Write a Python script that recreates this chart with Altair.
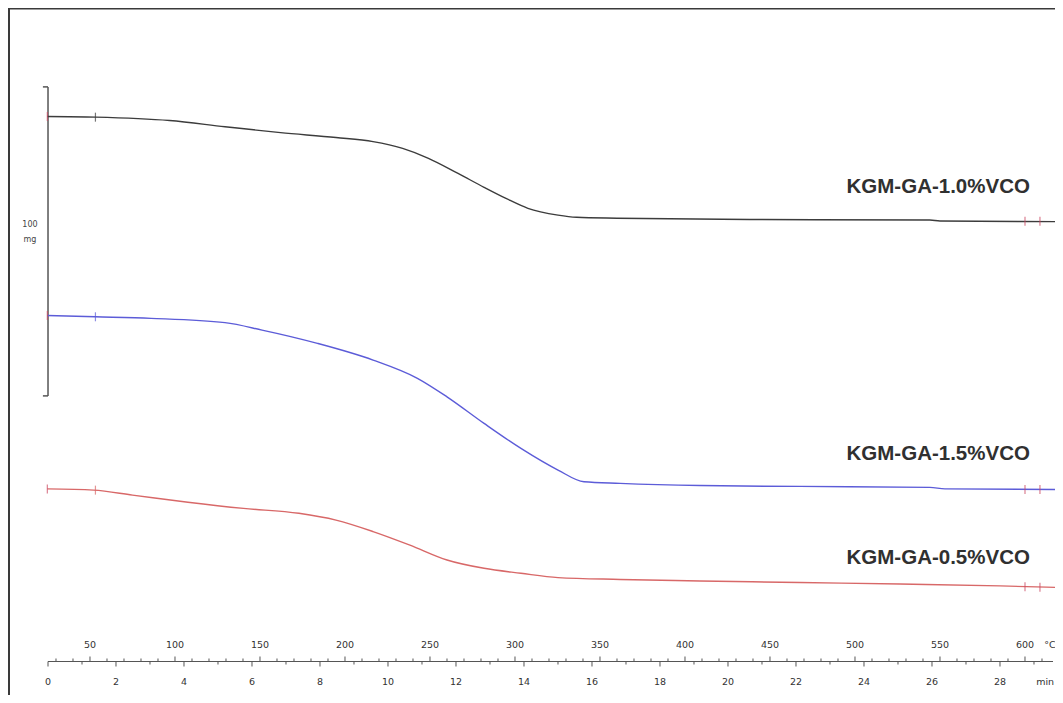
import altair as alt
import pandas as pd

# ---------------- data ----------------
# Temperature (°C) / signal (mg, arbitrary offset per curve)
black_T = [24.9, 53.2, 96.8, 129.4, 162.1, 194.7, 216.5, 233.9, 249.1, 266.5, 281.8,
           294.7, 307.6, 325.3, 336.2, 360.0, 438.2, 544.0, 550.0, 620.6]
black_mg = [187.2, 187.0, 185.9, 183.9, 182.0, 180.4, 179.1, 176.9, 173.7, 168.8, 164.3,
            160.7, 157.5, 155.3, 154.6, 154.3, 153.9, 153.7, 153.4, 153.2]

blue_T = [24.9, 53.2, 85.9, 129.4, 151.2, 183.8, 216.5, 242.6, 260.0, 281.8, 303.5,
          325.3, 340.6, 361.8, 408.8, 467.6, 544.1, 552.9, 620.6]
blue_mg = [122.8, 122.4, 121.9, 120.5, 118.1, 113.8, 108.4, 102.5, 96.5, 87.9, 79.8,
           72.8, 69.0, 68.5, 67.8, 67.5, 67.2, 66.7, 66.5]

red_T = [24.9, 52.1, 75.0, 107.6, 140.3, 172.9, 194.7, 216.5, 238.2, 260.0, 281.8,
         303.5, 325.3, 361.8, 408.8, 467.6, 526.5, 585.3, 620.6]
red_mg = [66.7, 66.3, 64.7, 62.4, 60.4, 58.8, 56.6, 52.9, 48.5, 43.7, 41.0,
          39.4, 38.0, 37.4, 36.9, 36.4, 35.9, 35.3, 34.8]

series_names = ["KGM-GA-1.0%VCO", "KGM-GA-1.5%VCO", "KGM-GA-0.5%VCO"]
series_colors = ["#3c3c3c", "#5c5cd8", "#d86868"]

# Start / end markers on each curve
marker_T = [24.9, 53.2, 600.0, 608.8]
marker_mg = {"KGM-GA-1.0%VCO": [187.2, 187.0, 153.3, 153.3],
             "KGM-GA-1.5%VCO": [122.8, 122.4, 66.5, 66.5],
             "KGM-GA-0.5%VCO": [66.7, 66.3, 35.0, 34.9]}

# Series labels (right aligned)
label_T = [602.9, 602.9, 602.9]
label_mg = [164.4, 78.0, 44.3]

# Scale bar: 100 mg
bar_T = 25.3
bar_lo, bar_hi = 96.8, 196.8
bar_text = ["100", "mg"]
bar_text_mg = [152.1, 147.2]

# Bottom axis labels
temp_labels = [50, 100, 150, 200, 250, 300, 350, 400, 450, 500, 550, 600]
time_labels = [0, 2, 4, 6, 8, 10, 12, 14, 16, 18, 20, 22, 24, 26, 28]
temp_minor = list(range(30, 611, 10))
time_minor = list(range(0, 30, 1))

# ---------------- tables ----------------
curves = pd.concat([
    pd.DataFrame({"T": black_T, "mg": black_mg, "s": series_names[0], "o": range(len(black_T))}),
    pd.DataFrame({"T": blue_T, "mg": blue_mg, "s": series_names[1], "o": range(len(blue_T))}),
    pd.DataFrame({"T": red_T, "mg": red_mg, "s": series_names[2], "o": range(len(red_T))}),
])

mk_rows = []
for s, c in zip(series_names, series_colors):
    for i, (T, m) in enumerate(zip(marker_T, marker_mg[s])):
        col = c if i == 1 else "#cc4a64"
        mk_rows.append({"T": T, "mg": m, "c": col})
markers = pd.DataFrame(mk_rows)

labels = pd.DataFrame({"T": label_T, "mg": label_mg, "txt": series_names})

W, H = 1047, 687
T_dom = [1.765, 617.65]
t_dom = [-1.1765, 29.618]
Y_dom = [0, 222.33]
AXIS_Y = 653.5

xT = lambda f="T": alt.X(f"{f}:Q", scale=alt.Scale(domain=T_dom, nice=False, zero=False), axis=None)
xt = lambda f="t": alt.X(f"{f}:Q", scale=alt.Scale(domain=t_dom, nice=False, zero=False), axis=None)
yM = lambda f="mg": alt.Y(f"{f}:Q", scale=alt.Scale(domain=Y_dom, nice=False, zero=False), axis=None)

line = alt.Chart(curves).mark_line(strokeWidth=1.4, clip=True, interpolate="monotone").encode(
    x=xT(), y=yM(), order="o:Q",
    color=alt.Color("s:N", scale=alt.Scale(domain=series_names, range=series_colors), legend=None),
)

ticks = alt.Chart(markers).mark_tick(orient="vertical", size=9, thickness=1.2).encode(
    x=xT(), y=yM(), color=alt.Color("c:N", scale=None)
)

lab = alt.Chart(labels).mark_text(align="right", baseline="middle", font="Liberation Sans",
                                  fontWeight="bold", fontSize=20.5, color="#303030").encode(
    x=xT(), y=yM(), text="txt:N"
)

bar_df = pd.DataFrame({"T": [bar_T], "lo": [bar_lo], "hi": [bar_hi]})
bar = alt.Chart(bar_df).mark_rule(color="#555555", strokeWidth=1.5).encode(
    x=xT(), y=yM("lo"), y2="hi:Q"
)
caps_df = pd.DataFrame({"T": [bar_T, bar_T], "T0": [bar_T - 3, bar_T - 3], "mg": [bar_lo, bar_hi]})
caps = alt.Chart(caps_df).mark_rule(color="#555555", strokeWidth=1.5).encode(
    x=xT(), x2="T0:Q", y=yM()
)
bar_lab = alt.Chart(pd.DataFrame({"T": [14.7, 14.7], "mg": bar_text_mg, "txt": bar_text})).mark_text(
    font="DejaVu Sans", fontSize=8, color="#444444").encode(x=xT(), y=yM(), text="txt:N")

# bottom axis: temperature part
temp_tick_df = pd.DataFrame({"T": temp_minor, "big": [v % 50 == 0 for v in temp_minor]})
temp_ticks_small = alt.Chart(temp_tick_df).transform_filter("!datum.big").mark_rule(
    color="#555555", strokeWidth=1).encode(x=xT(), y=alt.value(AXIS_Y - 3), y2=alt.value(AXIS_Y))
temp_ticks_big = alt.Chart(temp_tick_df).transform_filter("datum.big").mark_rule(
    color="#555555", strokeWidth=1).encode(x=xT(), y=alt.value(AXIS_Y - 5), y2=alt.value(AXIS_Y))
temp_lab = alt.Chart(pd.DataFrame({"T": temp_labels})).mark_text(
    font="DejaVu Sans", fontSize=9.5, color="#333333", baseline="middle").encode(
    x=xT(), y=alt.value(AXIS_Y - 17), text="T:Q")
degc = alt.Chart(pd.DataFrame({"T": [614.7], "txt": ["°C"]})).mark_text(
    font="DejaVu Sans", fontSize=9.5, color="#333333", baseline="middle").encode(
    x=xT(), y=alt.value(AXIS_Y - 17), text="txt:N")

frame_left = alt.Chart(pd.DataFrame({"T": [T_dom[0]]})).mark_rule(color="#3a3a3a", strokeWidth=2).encode(
    x=alt.value(1), y=alt.value(0), y2=alt.value(H))
frame_top = alt.Chart(pd.DataFrame({"T": [T_dom[0]]})).mark_rule(color="#3a3a3a", strokeWidth=2).encode(
    x=alt.value(0), x2=alt.value(W), y=alt.value(0.5))

temp_layer = alt.layer(frame_left, frame_top, bar, caps, bar_lab, line, ticks, lab,
                       temp_ticks_small, temp_ticks_big, temp_lab, degc)

# bottom axis: time part
time_tick_df = pd.DataFrame({"t": time_minor, "big": [v % 2 == 0 for v in time_minor]})
axis_line = alt.Chart(pd.DataFrame({"t": [0.0]})).mark_rule(color="#555555", strokeWidth=1.2).encode(
    x=xt(), x2=alt.value(W - 2), y=alt.value(AXIS_Y))
time_ticks_small = alt.Chart(time_tick_df).transform_filter("!datum.big").mark_rule(
    color="#555555", strokeWidth=1).encode(x=xt(), y=alt.value(AXIS_Y), y2=alt.value(AXIS_Y + 3))
time_ticks_big = alt.Chart(time_tick_df).transform_filter("datum.big").mark_rule(
    color="#555555", strokeWidth=1).encode(x=xt(), y=alt.value(AXIS_Y), y2=alt.value(AXIS_Y + 5))
time_lab = alt.Chart(pd.DataFrame({"t": time_labels})).mark_text(
    font="DejaVu Sans", fontSize=9.5, color="#333333", baseline="middle").encode(
    x=xt(), y=alt.value(AXIS_Y + 20), text="t:Q")
minlab = alt.Chart(pd.DataFrame({"t": [29.59], "txt": ["min"]})).mark_text(
    font="DejaVu Sans", fontSize=9.5, color="#333333", baseline="middle", align="right").encode(
    x=xt(), y=alt.value(AXIS_Y + 20), text="txt:N")

time_layer = alt.layer(axis_line, time_ticks_small, time_ticks_big, time_lab, minlab)

chart = alt.layer(temp_layer, time_layer).resolve_scale(x="independent").properties(
    width=W, height=H, padding=0, autosize=alt.AutoSizeParams(type="none"), background="white"
).configure_view(stroke=None)

chart.save("out.html", embed_options={"renderer": "svg", "actions": False})
